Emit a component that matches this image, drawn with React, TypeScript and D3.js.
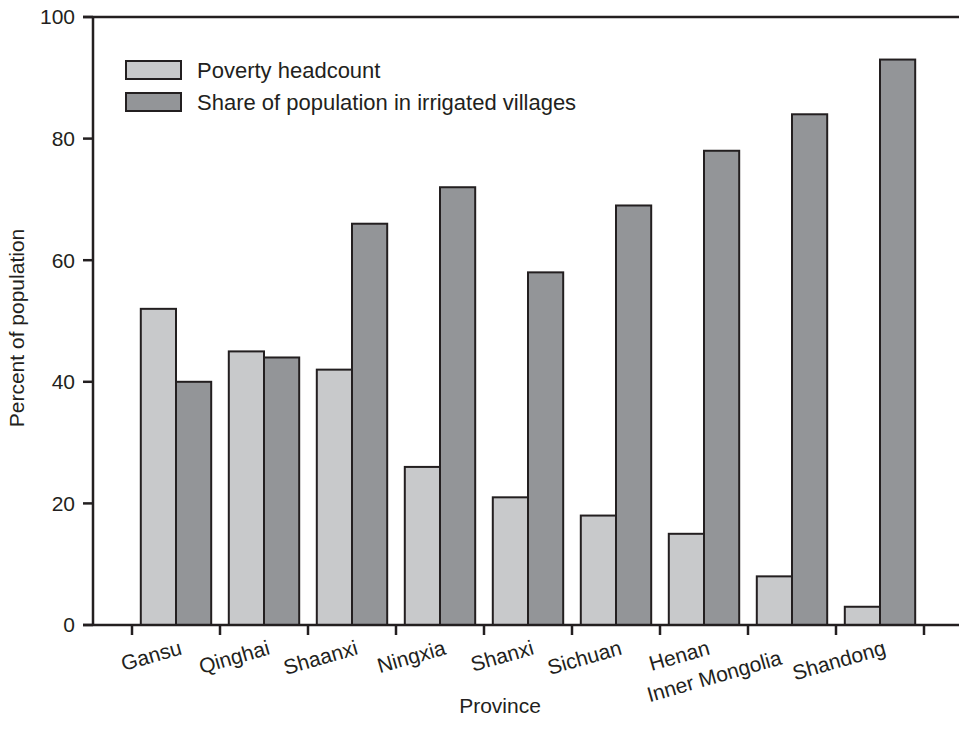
import React from "react";
import * as d3 from "d3";

const provinces = ["Gansu", "Qinghai", "Shaanxi", "Ningxia", "Shanxi", "Sichuan", "Henan", "Inner Mongolia", "Shandong"];
const povertyHeadcount = [52, 45, 42, 26, 21, 18, 15, 8, 3];
const irrigatedShare = [40, 44, 66, 72, 58, 69, 78, 84, 93];
const seriesNames = ["Poverty headcount", "Share of population in irrigated villages"];
const seriesColors = ["#c8c9cb", "#939598"];
const yTicks = [0, 20, 40, 60, 80, 100];

const W = 959;
const H = 742;
const INK = "#231f20";
const FONT = "Liberation Sans, Arial, Helvetica, sans-serif";

export default function App() {
  const axisX = 93;
  const rightX = 959;
  const x0 = d3.scaleBand<string>().domain(provinces).range([132, 924]).padding(0);
  const bw = x0.bandwidth();
  const x1 = d3.scaleBand<string>().domain(seriesNames).range([bw * 0.1, bw * 0.9]).padding(0);
  const y = d3.scaleLinear().domain([0, 100]).range([625, 17]);
  const values = [povertyHeadcount, irrigatedShare];

  return (
    <svg width={W} height={H} style={{ position: "absolute", left: 0, top: 0, background: "#fff" }} fontFamily={FONT}>
      <rect x={0} y={0} width={W} height={H} fill="#fff" />
      {/* bars */}
      {provinces.map((p, i) => (
        <g key={p}>
          {seriesNames.map((s, k) => (
            <rect
              key={s}
              x={(x0(p) as number) + (x1(s) as number)}
              y={y(values[k][i])}
              width={x1.bandwidth()}
              height={y(0) - y(values[k][i])}
              fill={seriesColors[k]}
              stroke={INK}
              strokeWidth={2}
            />
          ))}
        </g>
      ))}
      {/* axes */}
      <line x1={axisX} x2={axisX} y1={y(100)} y2={y(0)} stroke={INK} strokeWidth={2.5} />
      <line x1={axisX - 10} x2={rightX} y1={y(0)} y2={y(0)} stroke={INK} strokeWidth={2.5} />
      <line x1={axisX - 10} x2={rightX} y1={y(100)} y2={y(100)} stroke={INK} strokeWidth={2.5} />
      {yTicks.map((t) => (
        <g key={t}>
          <line x1={axisX - 10} x2={axisX} y1={y(t)} y2={y(t)} stroke={INK} strokeWidth={2.5} />
          <text x={axisX - 18} y={y(t)} dy="0.35em" textAnchor="end" fontSize={21} fill={INK}>
            {t}
          </text>
        </g>
      ))}
      {[...provinces.map((p) => x0(p) as number), (x0(provinces[provinces.length - 1]) as number) + bw].map((tx, i) => (
        <line key={i} x1={tx} x2={tx} y1={y(0)} y2={y(0) + 10} stroke={INK} strokeWidth={2.5} />
      ))}
      {provinces.map((p) => {
        const cx = (x0(p) as number) + bw / 2;
        const special = p === "Inner Mongolia";
        const tx = special ? cx - 9 : cx + 7;
        const ty = special ? 664 : 654;
        return (
          <text key={p} x={tx} y={ty} textAnchor="end" fontSize={21} fill={INK} transform={`rotate(-16 ${tx} ${ty})`}>
            {p}
          </text>
        );
      })}
      {/* axis titles */}
      <text x={500} y={713} textAnchor="middle" fontSize={21} fill={INK}>
        Province
      </text>
      <text x={24} y={328} textAnchor="middle" fontSize={21} fill={INK} transform="rotate(-90 24 328)">
        Percent of population
      </text>
      {/* legend */}
      {seriesNames.map((s, k) => (
        <g key={s}>
          <rect x={126} y={61 + k * 32} width={55} height={18} fill={seriesColors[k]} stroke={INK} strokeWidth={2} />
          <text x={197} y={70 + k * 32} dy="0.35em" fontSize={22} fill={INK}>
            {s}
          </text>
        </g>
      ))}
    </svg>
  );
}
